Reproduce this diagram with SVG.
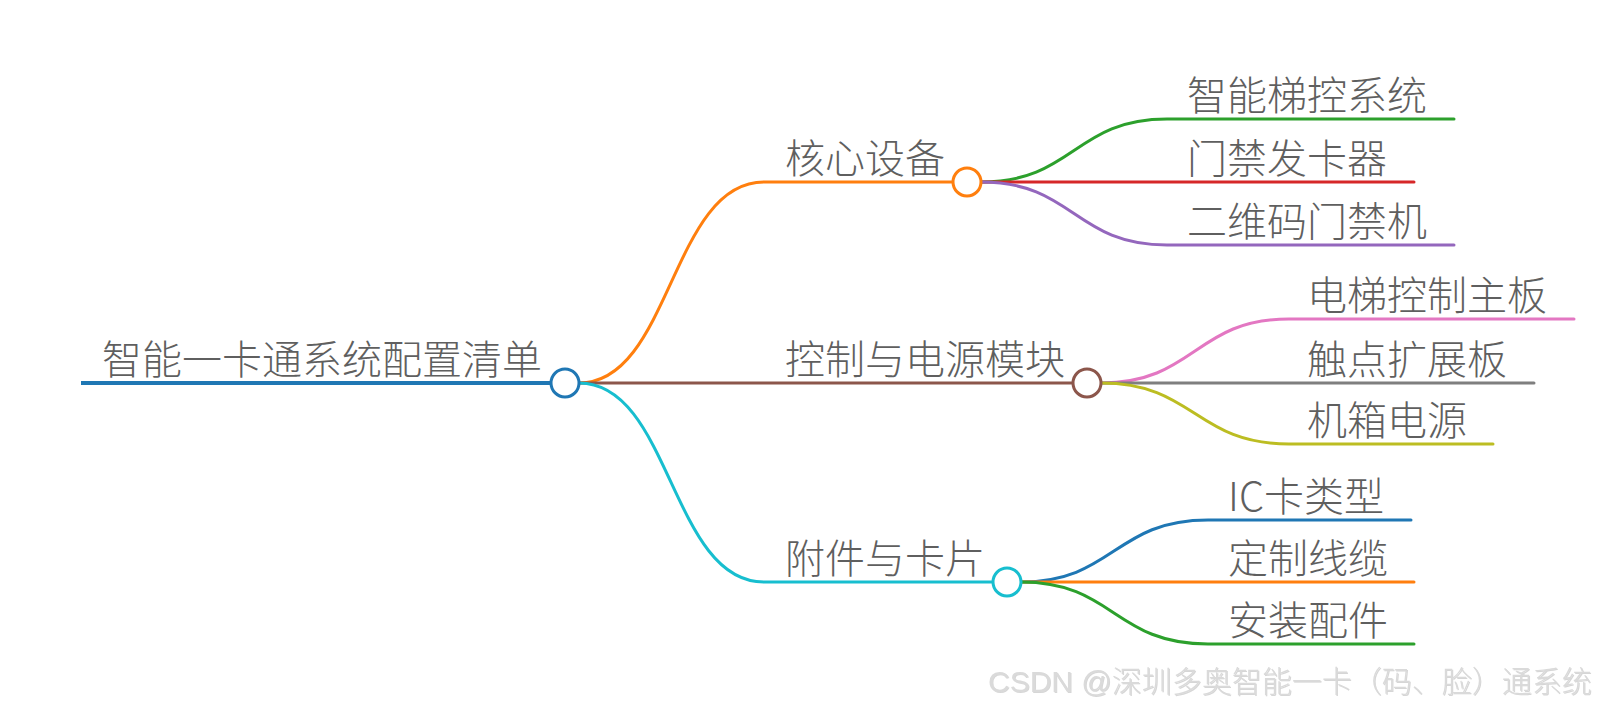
<svg xmlns="http://www.w3.org/2000/svg" width="1598" height="710" viewBox="0 0 1598 710">
<style>
.t{font-family:"Noto Sans CJK SC","Noto Sans",sans-serif;font-size:40px;font-weight:300;fill:#5f5f5f}
.l{fill:none;stroke-width:3;stroke-linecap:round}
.c{fill:#fff;stroke-width:3}
.wm{font-family:"Liberation Sans","Noto Sans CJK SC",sans-serif;font-size:30px;font-weight:300;fill:#dadada}
</style>
<defs>
<filter id="sh" x="-5%" y="-20%" width="110%" height="140%">
<feDropShadow dx="1" dy="1" stdDeviation="0.5" flood-color="#999" flood-opacity="0.4"/>
</filter>
</defs>
<rect width="1598" height="710" fill="#fff"/>
<g id="connectors">
<path class="l" stroke="#ff7f0e" d="M579,383 C671,383 671,182 764,182 L953,182"/>
<path class="l" stroke="#2ca02c" d="M981,182 C1074,182 1074,119 1167,119 L1454,119"/>
<path class="l" stroke="#d62728" d="M981,182 L1414,182"/>
<path class="l" stroke="#9467bd" d="M981,182 C1074,182 1074,245 1167,245 L1454,245"/>
<path class="l" stroke="#8c564b" d="M579,383 L1073,383"/>
<path class="l" stroke="#e377c2" d="M1101,383 C1195,383 1195,319 1289,319 L1574,319"/>
<path class="l" stroke="#7f7f7f" d="M1101,383 L1534,383"/>
<path class="l" stroke="#bcbd22" d="M1101,383 C1195,383 1195,444 1289,444 L1493,444"/>
<path class="l" stroke="#17becf" d="M579,383 C671,383 671,582 764,582 L993,582"/>
<path class="l" stroke="#1f77b4" d="M1021,582 C1114,582 1114,520 1208,520 L1411,520"/>
<path class="l" stroke="#ff7f0e" d="M1021,582 L1414,582"/>
<path class="l" stroke="#2ca02c" d="M1021,582 C1114,582 1114,644 1208,644 L1414,644"/>
</g>
<g id="root">
<line x1="81" y1="383" x2="551" y2="383" stroke="#1f77b4" stroke-width="4"/>
<circle class="c" cx="565" cy="383" r="14" stroke="#1f77b4"/>
<text class="t" x="102" y="374">智能一卡通系统配置清单</text>
</g>
<g id="n1">
<circle class="c" cx="967" cy="182" r="14" stroke="#ff7f0e"/>
<text class="t" x="785" y="173">核心设备</text>
</g>
<g id="n11"><text class="t" x="1187" y="110">智能梯控系统</text></g>
<g id="n12"><text class="t" x="1187" y="173">门禁发卡器</text></g>
<g id="n13"><text class="t" x="1187" y="236">二维码门禁机</text></g>
<g id="n2">
<circle class="c" cx="1087" cy="383" r="14" stroke="#8c564b"/>
<text class="t" x="785" y="374">控制与电源模块</text>
</g>
<g id="n21"><text class="t" x="1307" y="310">电梯控制主板</text></g>
<g id="n22"><text class="t" x="1307" y="374">触点扩展板</text></g>
<g id="n23"><text class="t" x="1307" y="435">机箱电源</text></g>
<g id="n3">
<circle class="c" cx="1007" cy="582" r="14" stroke="#17becf"/>
<text class="t" x="785" y="573">附件与卡片</text>
</g>
<g id="n31"><text class="t" x="1228" y="511">IC卡类型</text></g>
<g id="n32"><text class="t" x="1228" y="573">定制线缆</text></g>
<g id="n33"><text class="t" x="1228" y="635">安装配件</text></g>
<text class="wm" x="988" y="692" filter="url(#sh)">CSDN @深圳多奥智能一卡（码、脸）通系统</text>
</svg>
